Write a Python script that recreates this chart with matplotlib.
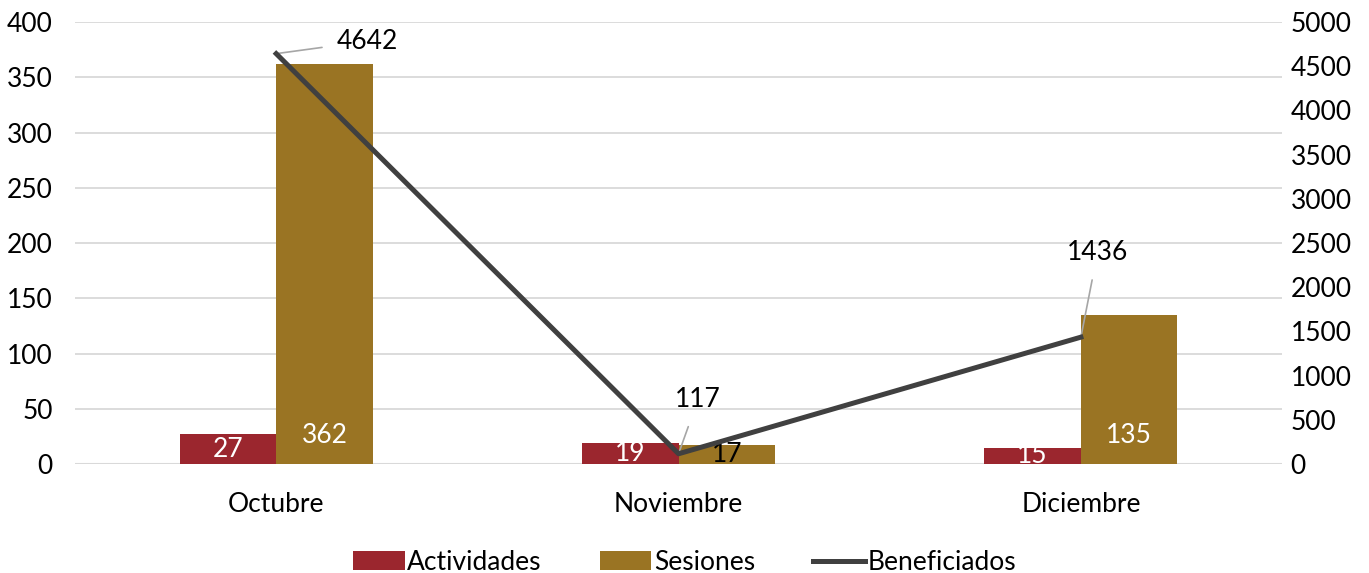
import matplotlib.pyplot as plt
import numpy as np

meses = ['Octubre', 'Noviembre', 'Diciembre']
actividades = [27, 19, 15]
sesiones = [362, 17, 135]
beneficiados = [4642, 117, 1436]

c_act = '#9b262e'
c_ses = '#9a7423'
c_lin = '#404040'

plt.rcParams['font.family'] = ['Lato', 'DejaVu Sans']
fs = 19

fig = plt.figure(figsize=(13.69, 5.73), dpi=100)
ax = fig.add_axes([0.0548, 0.19, 0.8817, 0.7716])
ax2 = ax.twinx()

x = np.arange(len(meses))
w = 0.24

b1 = ax.bar(x - w / 2, actividades, w, color=c_act, label='Actividades', zorder=2)
b2 = ax.bar(x + w / 2, sesiones, w, color=c_ses, label='Sesiones', zorder=2)

# etiquetas dentro de la base de las barras
for xi, v in zip(x - w / 2, actividades):
    ax.text(xi, min(v / 2, 26), str(v), ha='center', va='center', color='white', fontsize=fs, zorder=3)
for xi, v in zip(x + w / 2, sesiones):
    col = 'white' if v > 50 else 'black'
    ax.text(xi, min(v / 2, 26), str(v), ha='center', va='center', color=col, fontsize=fs, zorder=3)

ax.set_ylim(0, 400)
ax.set_yticks(np.arange(0, 401, 50))
ax2.set_ylim(0, 5000)
ax2.set_yticks(np.arange(0, 5001, 500))
ax.set_xlim(-0.5, 2.5)
ax.set_xticks(x)
ax.set_xticklabels(meses)

ax.grid(axis='y', color='#d9d9d9', linewidth=1.3, zorder=0)
ax.set_axisbelow(True)
for a in (ax, ax2):
    for s in ('top', 'left', 'right', 'bottom'):
        a.spines[s].set_visible(False)
ax.axhline(0, color='#d9d9d9', linewidth=1.5, zorder=1)

ax.tick_params(axis='y', length=0, pad=16, labelsize=fs)
ax.tick_params(axis='x', length=0, pad=20, labelsize=fs)
ax2.tick_params(axis='y', length=0, pad=6, labelsize=fs)

ax2.set_zorder(ax.get_zorder() + 1)
ax2.patch.set_visible(False)
ln, = ax2.plot(x, beneficiados, color=c_lin, linewidth=3.6, label='Beneficiados', zorder=4)

offsets = [(66, 9), (14, 39), (12, 61)]
for xi, v, off in zip(x, beneficiados, offsets):
    ax2.annotate(str(v), xy=(xi, v), xytext=off, textcoords='offset points',
                 ha='center', va='center', fontsize=fs,
                 arrowprops=dict(arrowstyle='-', color='#a6a6a6', lw=1.2,
                                 shrinkA=9, shrinkB=0))

fig.legend(handles=[b1, b2, ln], loc='lower center', ncol=3, frameon=False,
           fontsize=fs, bbox_to_anchor=(0.5, -0.045), handlelength=1.95,
           handleheight=0.75, handletextpad=0.1, columnspacing=2.2)

fig.savefig('out.png', dpi=100)
